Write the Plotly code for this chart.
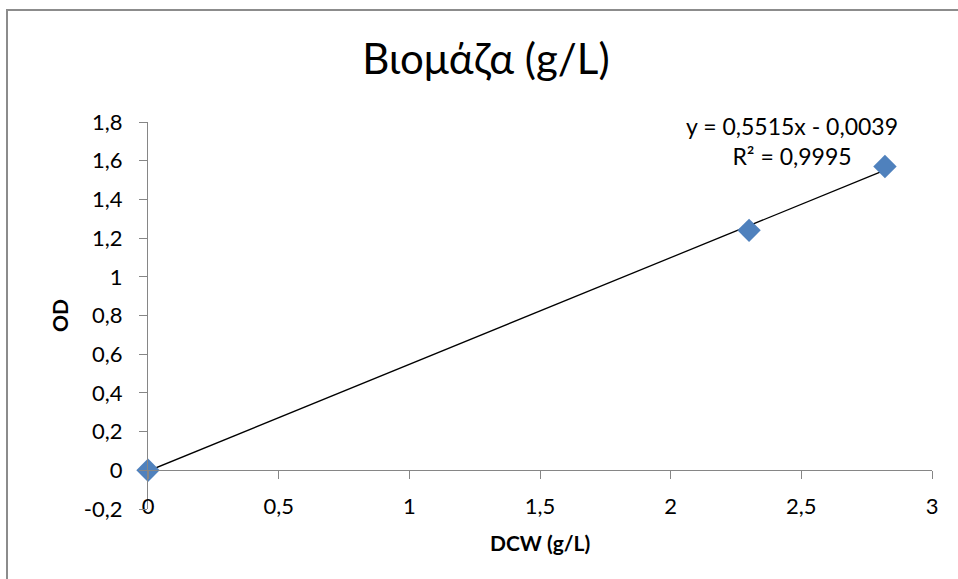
import plotly.graph_objects as go

dcw = [0.0, 2.3, 2.82]
od = [0.0, 1.24, 1.57]
slope = 0.5515
intercept = -0.0039
x_ticks = [0, 0.5, 1, 1.5, 2, 2.5, 3]
x_labels = ["0", "0,5", "1", "1,5", "2", "2,5", "3"]
y_ticks = [-0.2, 0, 0.2, 0.4, 0.6, 0.8, 1.0, 1.2, 1.4, 1.6, 1.8]
y_labels = ["-0,2", "0", "0,2", "0,4", "0,6", "0,8", "1", "1,2", "1,4", "1,6", "1,8"]
eq_text = "y = 0,5515x - 0,0039<br>R² = 0,9995"

FONT = "Lato, 'Open Sans', sans-serif"
AX = "#868686"

trend_x = [min(dcw), max(dcw)]
trend_y = [slope * v + intercept for v in trend_x]

fig = go.Figure()
fig.add_trace(go.Scatter(x=trend_x, y=trend_y, mode="lines",
                         line=dict(color="black", width=1.3), hoverinfo="skip"))
fig.add_trace(go.Scatter(x=dcw, y=od, mode="markers", cliponaxis=False,
                         marker=dict(symbol="diamond", size=18, color="#4F81BD",
                                     line=dict(width=0))))

fig.update_layout(
    width=958, height=579,
    margin=dict(l=148, r=26, t=122, b=70),
    paper_bgcolor="white", plot_bgcolor="white",
    showlegend=False,
    font=dict(family=FONT, size=22, color="black"),
    title=dict(text="Βιομάζα (g/L)", x=(486 - 148) / 784, xanchor="center", xref="paper",
               y=1 - 59 / 579, yanchor="middle",
               font=dict(family=FONT, size=42, color="black")),
    xaxis=dict(range=[0, 3], tickvals=x_ticks, ticktext=x_labels,
               showgrid=False, zeroline=False, showline=True, linecolor=AX,
               linewidth=1.3, ticks="outside", ticklen=8, tickcolor=AX,
               anchor="free", position=0.1, ticklabelstandoff=8,
               tickfont=dict(family=FONT, size=22)),
    yaxis=dict(range=[-0.2, 1.8], tickvals=y_ticks, ticktext=y_labels,
               showgrid=False, zeroline=False, showline=True, linecolor=AX,
               linewidth=1.3, ticks="outside", ticklen=8, tickcolor=AX,
               ticklabelstandoff=12,
               tickfont=dict(family=FONT, size=22)),
)

fig.add_annotation(text="<b>DCW (g/L)</b>", xref="paper", yref="paper",
                   x=(540 - 148) / 784, y=-(542 - 509) / 387,
                   showarrow=False, font=dict(family=FONT, size=21, color="black"),
                   xanchor="center", yanchor="middle")
fig.add_annotation(text="<b>OD</b>", xref="paper", yref="paper",
                   x=-(148 - 59) / 784, y=(509 - 316) / 387, textangle=-90,
                   showarrow=False, font=dict(family=FONT, size=21, color="black"),
                   xanchor="center", yanchor="middle")
fig.add_annotation(text=eq_text, xref="paper", yref="paper",
                   x=(792 - 148) / 784, y=(509 - 141) / 387,
                   showarrow=False, align="center",
                   font=dict(family=FONT, size=23, color="black"),
                   xanchor="center", yanchor="middle")

fig.add_shape(type="rect", xref="paper", yref="paper",
              x0=-(148 - 7) / 784, x1=(970 - 148) / 784,
              y0=-(600 - 509) / 387, y1=(509 - 10) / 387,
              line=dict(color="#8c8c8c", width=2), fillcolor="rgba(0,0,0,0)",
              layer="below")

fig.write_html("out.html", config={"displayModeBar": False},
               post_script="document.body.style.margin='0px';")
